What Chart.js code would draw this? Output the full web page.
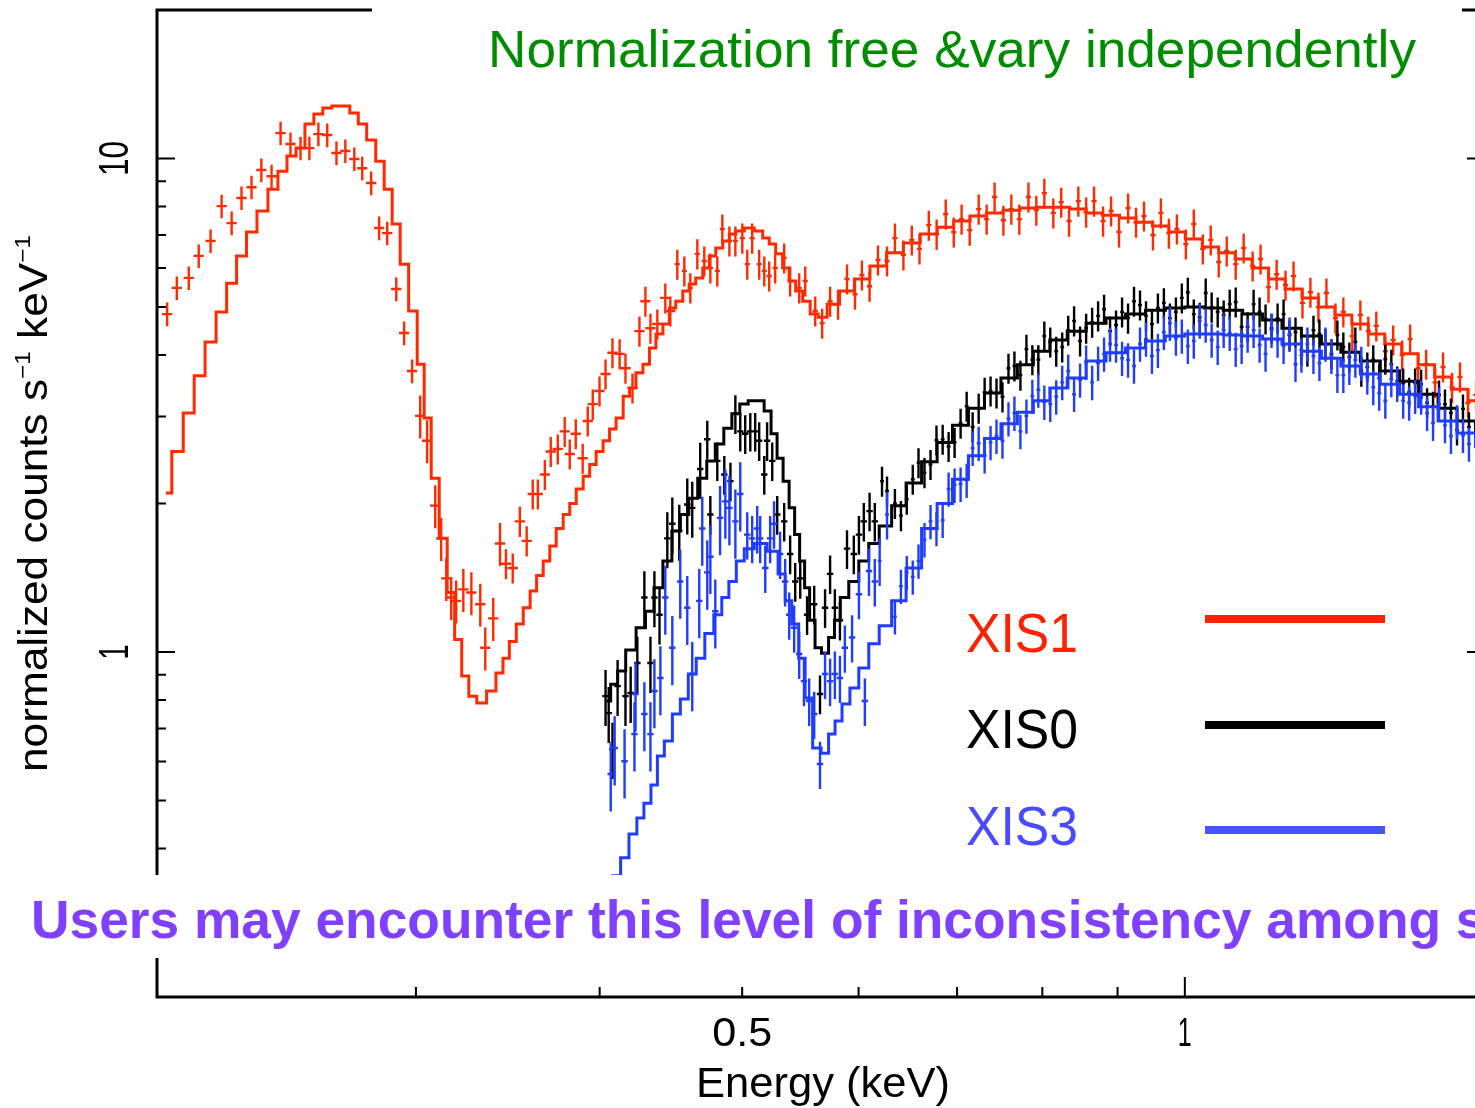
<!DOCTYPE html>
<html>
<head>
<meta charset="utf-8">
<script src="https://cdn.jsdelivr.net/npm/chart.js@4.4.1/dist/chart.umd.min.js"></script>
<style>
  html, body { margin: 0; padding: 0; background: #fff; overflow: hidden; }
  #spec { position: absolute; left: 0; top: 0; }
</style>
</head>
<body>
<canvas id="spec" width="1500" height="1108"></canvas>
<script>
// [energy keV, normalized counts s^-1 keV^-1]
const xis1Model = [[0.2028,2.10],[0.2066,2.55],[0.2102,3.05],[0.2138,3.63],[0.2175,4.25],[0.2213,4.89],[0.2248,5.59],[0.2283,6.35],[0.2319,7.10],[0.2359,7.83],[0.2400,8.67],[0.2434,9.43],[0.2469,10.12],[0.2504,10.50],[0.2539,11.75],[0.2575,12.31],[0.2611,12.66],[0.2649,12.78],[0.2686,12.78],[0.2724,12.37],[0.2758,11.75],[0.2797,10.90],[0.2837,9.88],[0.2872,8.67],[0.2909,7.37],[0.2945,6.11],[0.2987,4.91],[0.3025,3.83],[0.3053,2.98],[0.3092,2.25],[0.3131,1.70],[0.3170,1.32],[0.3205,1.06],[0.3241,0.894],[0.3277,0.814],[0.3323,0.788],[0.3379,0.834],[0.3422,0.907],[0.3454,0.972],[0.3491,1.05],[0.3530,1.14],[0.3568,1.23],[0.3607,1.33],[0.3641,1.43],[0.3682,1.53],[0.3717,1.64],[0.3757,1.78],[0.3799,1.90],[0.3835,2.00],[0.3877,2.14],[0.3919,2.27],[0.3957,2.40],[0.3999,2.55],[0.4044,2.68],[0.4081,2.83],[0.4127,2.98],[0.4173,3.30],[0.4211,3.43],[0.4257,3.68],[0.4304,3.83],[0.4345,4.13],[0.4392,4.41],[0.4441,4.62],[0.4482,4.98],[0.4531,5.14],[0.4581,5.39],[0.4624,5.57],[0.4675,5.73],[0.4727,6.00],[0.4771,6.35],[0.4824,6.59],[0.4877,6.81],[0.4924,7.03],[0.4978,7.13],[0.5056,7.23],[0.5135,7.13],[0.5192,6.90],[0.5241,6.71],[0.5298,6.41],[0.5356,6.00],[0.5407,5.65],[0.5467,5.39],[0.5527,5.14],[0.5597,4.84],[0.5667,4.77],[0.5756,5.07],[0.5892,5.39],[0.6031,5.70],[0.6185,6.06],[0.6351,6.44],[0.6521,6.74],[0.6697,7.03],[0.6877,7.26],[0.7050,7.47],[0.7241,7.65],[0.7424,7.76],[0.7621,7.86],[0.7828,7.94],[0.8025,7.97],[0.8240,7.97],[0.8464,7.90],[0.8675,7.76],[0.8909,7.68],[0.9150,7.58],[0.9380,7.43],[0.9632,7.30],[0.9876,7.10],[1.0141,6.87],[1.0414,6.62],[1.0678,6.44],[1.0965,6.26],[1.1259,6.00],[1.1546,5.70],[1.1856,5.44],[1.2173,5.22],[1.2482,5.00],[1.2817,4.82],[1.3163,4.62],[1.3496,4.41],[1.3858,4.21],[1.4230,4.02],[1.4591,3.82],[1.4983,3.61],[1.5385,3.41],[1.5776,3.23],[1.620,3.05]];

const xis0Model = [[0.4044,0.796],[0.4095,0.861],[0.4134,0.915],[0.4199,1.01],[0.4271,1.12],[0.4324,1.21],[0.4386,1.35],[0.4447,1.53],[0.4511,1.76],[0.4567,1.90],[0.4631,2.05],[0.4697,2.25],[0.4764,2.44],[0.4824,2.64],[0.4893,2.84],[0.4947,3.04],[0.5016,3.18],[0.5079,3.23],[0.5143,3.23],[0.5207,3.08],[0.5256,2.77],[0.5306,2.47],[0.5356,2.22],[0.5407,1.96],[0.5449,1.73],[0.5492,1.53],[0.5535,1.35],[0.5579,1.16],[0.5630,1.02],[0.5693,0.995],[0.5756,1.07],[0.5799,1.16],[0.5862,1.29],[0.5955,1.39],[0.6049,1.53],[0.6144,1.66],[0.6250,1.80],[0.6388,1.98],[0.6539,2.20],[0.6706,2.43],[0.6865,2.66],[0.7036,2.88],[0.7217,3.12],[0.7399,3.35],[0.7598,3.59],[0.7790,3.82],[0.7988,4.07],[0.8203,4.29],[0.8435,4.47],[0.8703,4.64],[0.8978,4.75],[0.9250,4.84],[0.9556,4.93],[0.9845,4.98],[1.0157,5.00],[1.0464,4.98],[1.0778,4.93],[1.1120,4.84],[1.1471,4.71],[1.1817,4.53],[1.2191,4.37],[1.2580,4.21],[1.2958,4.05],[1.3370,3.89],[1.3795,3.71],[1.4208,3.54],[1.4636,3.33],[1.5101,3.12],[1.5531,2.94],[1.5999,2.78]];

const xis3Model = [[0.4057,0.313],[0.4108,0.352],[0.4159,0.383],[0.4217,0.428],[0.4263,0.461],[0.4311,0.494],[0.4358,0.538],[0.4399,0.616],[0.4454,0.660],[0.4511,0.749],[0.4567,0.803],[0.4624,0.903],[0.4682,0.972],[0.4750,1.09],[0.4816,1.19],[0.4870,1.29],[0.4924,1.39],[0.4985,1.53],[0.5048,1.62],[0.5143,1.66],[0.5256,1.60],[0.5323,1.44],[0.5374,1.27],[0.5433,1.14],[0.5492,0.972],[0.5544,0.807],[0.5623,0.639],[0.5693,0.624],[0.5756,0.682],[0.5810,0.725],[0.5883,0.785],[0.5955,0.846],[0.6049,0.928],[0.6144,1.04],[0.6250,1.13],[0.6388,1.27],[0.6539,1.48],[0.6706,1.78],[0.6865,2.00],[0.7036,2.24],[0.7217,2.50],[0.7399,2.71],[0.7598,2.90],[0.7790,3.06],[0.7988,3.23],[0.8203,3.43],[0.8435,3.59],[0.8703,3.89],[0.8978,4.04],[0.9250,4.13],[0.9556,4.27],[0.9845,4.37],[1.0157,4.41],[1.0464,4.41],[1.0778,4.39],[1.1120,4.37],[1.1471,4.31],[1.1817,4.21],[1.2191,4.07],[1.2580,3.94],[1.2958,3.80],[1.3370,3.66],[1.3795,3.49],[1.4208,3.33],[1.4636,3.14],[1.5101,2.94],[1.5531,2.78],[1.5999,2.61]];

const xis1Data = [[0.2032,4.84],[0.2063,5.47],[0.2102,5.73],[0.2135,6.35],[0.2175,6.81],[0.2213,8.01],[0.2248,7.40],[0.2283,8.32],[0.2319,8.75],[0.2355,9.48],[0.2393,9.21],[0.2427,11.26],[0.2465,10.70],[0.2504,10.50],[0.2539,10.50],[0.2575,11.21],[0.2611,11.16],[0.2649,10.26],[0.2686,10.36],[0.2724,9.98],[0.2758,9.56],[0.2797,8.92],[0.2832,7.23],[0.2868,7.06],[0.2909,5.44],[0.2945,4.43],[0.2982,3.71],[0.3020,3.01],[0.3053,2.68],[0.3092,1.98],[0.3121,1.70],[0.3146,1.41],[0.3170,1.29],[0.3195,1.27],[0.3231,1.34],[0.3272,1.32],[0.3318,1.25],[0.3344,1.02],[0.3386,1.17],[0.3422,1.66],[0.3454,1.51],[0.3491,1.48],[0.3530,1.84],[0.3568,1.68],[0.3602,2.09],[0.3631,2.09],[0.3671,2.29],[0.3705,2.55],[0.3746,2.58],[0.3787,2.80],[0.3817,2.52],[0.3853,2.77],[0.3895,2.47],[0.3926,2.94],[0.3957,3.18],[0.3999,3.38],[0.4037,3.66],[0.4081,4.04],[0.4127,4.02],[0.4165,3.76],[0.4211,3.43],[0.4257,4.47],[0.4297,5.14],[0.4331,4.53],[0.4378,4.62],[0.4433,5.22],[0.4468,4.91],[0.4517,6.11],[0.4567,5.92],[0.4610,5.47],[0.4661,6.41],[0.4712,6.20],[0.4757,6.00],[0.4809,5.92],[0.4847,7.20],[0.4901,6.81],[0.4947,6.81],[0.5001,6.90],[0.5040,6.11],[0.5079,6.90],[0.5135,6.11],[0.5176,5.92],[0.5216,5.78],[0.5265,6.00],[0.5340,6.29],[0.5390,5.65],[0.5467,5.47],[0.5519,5.65],[0.5606,4.91],[0.5667,4.64],[0.5738,5.14],[0.5810,5.07],[0.5892,5.70],[0.5966,5.31],[0.6031,5.81],[0.6104,5.51],[0.6185,6.23],[0.6273,6.20],[0.6351,6.90],[0.6436,6.38],[0.6521,6.84],[0.6600,6.56],[0.6697,7.33],[0.6780,7.03],[0.6877,7.72],[0.6964,7.10],[0.7050,7.54],[0.7140,7.16],[0.7241,7.90],[0.7332,7.54],[0.7424,8.36],[0.7527,7.50],[0.7621,7.90],[0.7717,7.54],[0.7828,8.36],[0.7925,7.86],[0.8025,8.51],[0.8139,7.76],[0.8240,8.16],[0.8342,7.47],[0.8464,8.20],[0.8568,7.79],[0.8675,8.20],[0.8798,7.47],[0.8909,7.83],[0.9020,7.10],[0.9150,7.94],[0.9264,7.43],[0.9380,7.65],[0.9513,7.00],[0.9632,7.76],[0.9753,7.06],[0.9876,7.20],[1.0016,6.71],[1.0141,7.37],[1.0285,6.56],[1.0414,6.84],[1.0545,6.17],[1.0678,6.50],[1.0829,6.11],[1.0965,6.59],[1.1120,6.06],[1.1259,6.26],[1.1400,5.49],[1.1546,5.83],[1.1708,5.54],[1.1856,5.78],[1.2023,5.10],[1.2173,5.36],[1.2327,5.00],[1.2482,5.34],[1.2659,4.75],[1.2817,4.89],[1.2999,4.37],[1.3163,4.82],[1.3328,4.47],[1.3496,4.58],[1.3688,4.07],[1.3858,4.29],[1.4054,4.00],[1.4230,4.31],[1.4409,3.76],[1.4591,3.83],[1.4798,3.52],[1.4983,3.78],[1.5196,3.44],[1.5385,3.61],[1.5580,3.20],[1.5776,3.32]];

const xis0Data = [[0.4037,0.814],[0.4057,0.752],[0.4081,0.636],[0.4114,0.853],[0.4165,0.814],[0.4199,0.826],[0.4243,0.950],[0.4290,1.29],[0.4331,0.950],[0.4358,1.29],[0.4393,1.19],[0.4447,1.70],[0.4482,1.82],[0.4531,1.76],[0.4588,1.99],[0.4624,1.96],[0.4682,2.35],[0.4734,2.70],[0.4757,1.90],[0.4809,2.44],[0.4862,2.29],[0.4909,2.22],[0.4947,3.04],[0.4985,2.80],[0.5024,2.77],[0.5064,2.80],[0.5103,2.80],[0.5135,2.68],[0.5176,2.29],[0.5199,2.68],[0.5241,2.44],[0.5282,1.90],[0.5340,1.84],[0.5390,1.58],[0.5433,1.39],[0.5476,1.41],[0.5535,1.19],[0.5597,1.25],[0.5648,0.822],[0.5693,1.23],[0.5738,1.44],[0.5781,1.23],[0.5827,1.16],[0.5892,1.62],[0.5955,1.58],[0.6003,1.73],[0.6049,1.84],[0.6104,1.93],[0.6154,1.84],[0.6224,2.22],[0.6273,2.12],[0.6351,2.00],[0.6470,2.04],[0.6590,2.42],[0.6715,2.40],[0.6844,2.70],[0.6973,2.66],[0.7106,3.15],[0.7241,3.12],[0.7377,3.38],[0.7516,3.29],[0.7658,3.80],[0.7803,4.11],[0.7950,3.91],[0.8100,4.25],[0.8253,4.15],[0.8408,4.69],[0.8568,4.53],[0.8730,4.80],[0.8895,4.47],[0.9064,4.89],[0.9235,5.14],[0.9410,4.80],[0.9587,4.98],[0.9769,4.75],[0.9953,5.22],[1.0141,4.84],[1.0332,5.34],[1.0528,4.89],[1.0728,5.07],[1.0930,4.56],[1.1137,5.07],[1.1347,4.73],[1.1563,4.75],[1.1781,4.39],[1.2003,4.09],[1.2231,4.49],[1.2463,4.21],[1.2698,4.39],[1.2938,3.96],[1.3183,3.71],[1.3432,3.91],[1.3688,3.92],[1.3945,3.54],[1.4208,3.36],[1.4477,3.49],[1.4750,3.15],[1.5028,3.18],[1.5314,2.82],[1.5603,2.86],
  [0.6411,1.89],[0.6531,2.24],[0.6652,2.31],[0.6778,2.69],[0.6908,2.61],[0.7039,2.91],[0.7173,2.86],[0.7309,3.36],[0.7446,3.35],[0.7587,3.76],[0.7730,3.64],[0.7876,3.91],[0.8025,4.37],[0.8176,4.07],[0.8331,4.49],[0.8487,4.27],[0.8649,4.66],[0.8812,4.95],[0.8979,4.60],[0.9149,4.75],[0.9322,5.05],[0.9498,4.62],[0.9677,5.10],[0.9861,4.89],[1.0047,5.36],[1.0236,4.77],[1.0429,5.00],[1.0627,4.82],[1.0829,5.12],[1.1033,4.56],[1.1242,4.89],[1.1454,4.53],[1.1672,4.84],[1.1892,4.45],[1.2116,4.07],[1.2346,4.41],[1.2580,4.02],[1.2817,4.15],[1.3060,4.25],[1.3307,3.78],[1.3558,3.59],[1.3817,3.83],[1.4076,3.51],[1.4342,3.51],[1.4613,3.20],[1.4889,3.32],[1.5169,3.05],[1.5458,3.11]];

const xis3Data = [[0.4070,0.566],[0.4095,0.639],[0.4159,0.601],[0.4224,0.682],[0.4231,0.822],[0.4290,0.749],[0.4331,0.682],[0.4358,0.834],[0.4399,0.886],[0.4433,1.29],[0.4482,1.02],[0.4538,1.39],[0.4588,1.23],[0.4624,0.903],[0.4675,1.27],[0.4697,1.78],[0.4734,1.45],[0.4757,1.56],[0.4794,1.21],[0.4830,1.87],[0.4870,2.02],[0.4901,1.96],[0.4947,1.84],[0.4985,2.09],[0.5040,1.73],[0.5079,1.70],[0.5119,1.78],[0.5143,1.70],[0.5184,1.48],[0.5224,1.70],[0.5256,1.82],[0.5306,1.58],[0.5348,1.39],[0.5382,1.19],[0.5424,1.12],[0.5467,0.991],[0.5508,0.873],[0.5553,0.796],[0.5597,0.749],[0.5648,0.593],[0.5693,0.903],[0.5738,0.873],[0.5781,0.903],[0.5827,0.886],[0.5872,1.02],[0.5939,1.07],[0.6003,1.31],[0.6059,0.796],[0.6098,1.46],[0.6154,1.39],[0.6201,1.53],[0.6273,1.90],[0.6351,1.18],[0.6470,1.45],[0.6590,1.53],[0.6715,1.84],[0.6844,1.85],[0.6973,2.18],[0.7106,2.23],[0.7241,2.65],[0.7377,2.66],[0.7516,2.68],[0.7658,3.05],[0.7803,3.01],[0.7950,3.40],[0.8100,3.18],[0.8253,3.52],[0.8408,3.33],[0.8568,3.87],[0.8730,3.85],[0.8895,4.21],[0.9064,3.94],[0.9235,3.80],[0.9410,4.31],[0.9587,4.09],[0.9769,4.64],[0.9953,4.37],[1.0141,4.27],[1.0332,4.60],[1.0528,4.15],[1.0728,4.43],[1.0930,4.17],[1.1137,4.49],[1.1347,4.02],[1.1563,4.29],[1.1781,4.41],[1.2003,4.00],[1.2231,3.98],[1.2463,4.21],[1.2698,3.64],[1.2938,3.78],[1.3183,3.85],[1.3432,3.44],[1.3688,3.23],[1.3945,3.49],[1.4208,3.20],[1.4477,3.29],[1.4750,2.91],[1.5028,2.88],[1.5314,2.93],[1.5603,2.64],
  [0.6411,1.36],[0.6531,1.42],[0.6652,1.69],[0.6778,1.78],[0.6908,2.14],[0.7039,2.19],[0.7173,2.59],[0.7309,2.50],[0.7446,2.74],[0.7587,2.97],[0.7730,2.80],[0.7876,3.30],[0.8025,3.21],[0.8176,3.29],[0.8331,3.71],[0.8487,3.56],[0.8649,3.52],[0.8812,4.02],[0.8979,4.19],[0.9149,3.91],[0.9322,4.21],[0.9498,3.98],[0.9677,4.45],[0.9861,4.33],[1.0047,4.17],[1.0236,4.69],[1.0429,4.29],[1.0627,4.49],[1.0829,4.11],[1.1033,4.39],[1.1242,4.19],[1.1454,4.49],[1.1672,4.17],[1.1892,3.83],[1.2116,4.21],[1.2346,3.85],[1.2580,3.98],[1.2817,3.64],[1.3060,3.91],[1.3307,3.61],[1.3558,3.35],[1.3817,3.57],[1.4076,3.23],[1.4342,3.30],[1.4613,3.05],[1.4889,3.18],[1.5169,2.74],[1.5458,2.75]];

// fractional 1-sigma error, by energy band: [upper energy, fraction]
const xis1ErrFrac = [[0.30, 0.055], [0.345, 0.10], [0.56, 0.07], [2, 0.07]];
const xis0ErrFrac = [[0.47, 0.13], [0.62, 0.09], [2, 0.07]];
const xis3ErrFrac = [[0.50, 0.16], [0.63, 0.11], [2, 0.08]];
// half bin width as a fraction of energy
const xis1BinHalf = [[0.45, 0.008], [2, 0.004]];
const xis0BinHalf = [[0.62, 0.005], [2, 0.003]];
const xis3BinHalf = [[0.62, 0.005], [2, 0.003]];

const detectors = ['XIS1', 'XIS0', 'XIS3'];
const xMinorTicks = [0.3, 0.4, 0.5, 0.6, 0.7, 0.8, 0.9];
const xMajorTicks = [1];
const yMinorTicks = [0.3, 0.4, 0.5, 0.6, 0.7, 0.8, 0.9, 2, 3, 4, 5, 6, 7, 8, 9];
const yMajorTicks = [1, 10];
const xTickLabels = [[0.5, '0.5'], [1, '1']];
const yTickLabels = [[1, '1'], [10, '10']];

const RED = '#ff2a00', BLACK = '#000000', BLUE = '#1f3cff';
const FONT = '"Liberation Sans", Arial, Helvetica, sans-serif';

const pts = arr => arr.map(([x, y]) => ({x, y}));
function band(bands, e) {
    for (const [upTo, v] of bands) if (e <= upTo) return v;
    return bands[bands.length - 1][1];
}

// vertical + horizontal error bars for the data sets
const errorBars = {
    id: 'errorBars',
    afterDatasetDraw(chart, args) {
        const ds = chart.data.datasets[args.index];
        if (!ds.errFrac) return;
        const {ctx, chartArea: a, scales: {x, y}} = chart;
        ctx.save();
        ctx.beginPath();
        ctx.rect(a.left, a.top, a.right - a.left, a.bottom - a.top);
        ctx.clip();
        ctx.strokeStyle = ds.borderColor;
        ctx.lineWidth = 2.4;
        ctx.beginPath();
        ds.data.forEach(p => {
            const fy = band(ds.errFrac, p.x), fx = band(ds.binHalf, p.x);
            const px = x.getPixelForValue(p.x), py = y.getPixelForValue(p.y);
            ctx.moveTo(px, y.getPixelForValue(p.y * (1 + fy)));
            ctx.lineTo(px, y.getPixelForValue(p.y * (1 - fy)));
            ctx.moveTo(x.getPixelForValue(p.x * (1 - fx)), py);
            ctx.lineTo(x.getPixelForValue(p.x * (1 + fx)), py);
        });
        ctx.stroke();
        ctx.restore();
    }
};

function fitText(ctx, text, x, y, font, width, align, color, measureText) {
    ctx.save();
    ctx.font = font;
    ctx.fillStyle = color;
    const s = width / ctx.measureText(measureText || text).width;
    ctx.translate(x, y);
    ctx.scale(s, 1);
    ctx.textAlign = align;
    ctx.textBaseline = 'alphabetic';
    ctx.fillText(text, 0, 0);
    ctx.restore();
}

// frame, ticks, labels, legend and the slide overlays
const frame = {
    id: 'frame',
    afterDraw(chart) {
        const {ctx, chartArea: a, scales: {x, y}} = chart;
        ctx.save();
        ctx.strokeStyle = '#000';
        const seg = (x1, y1, x2, y2) => { ctx.moveTo(x1, y1); ctx.lineTo(x2, y2); };

        ctx.lineWidth = 2;
        ctx.beginPath();
        xMinorTicks.forEach(v => { const p = x.getPixelForValue(v); seg(p, a.bottom, p, a.bottom - 10); seg(p, a.top, p, a.top + 10); });
        xMajorTicks.forEach(v => { const p = x.getPixelForValue(v); seg(p, a.bottom, p, a.bottom - 20); seg(p, a.top, p, a.top + 20); });
        yMinorTicks.forEach(v => { const p = y.getPixelForValue(v); seg(a.left, p, a.left + 9, p); seg(a.right, p, a.right - 9, p); });
        yMajorTicks.forEach(v => { const p = y.getPixelForValue(v); seg(a.left, p, a.left + 18, p); seg(a.right, p, a.right - 18, p); });
        ctx.stroke();

        ctx.lineWidth = 3;
        ctx.strokeRect(a.left, a.top, a.right - a.left, a.bottom - a.top);

        // tick labels
        xTickLabels.forEach(([v, t]) => fitText(ctx, t, x.getPixelForValue(v), 1046, '40px ' + FONT, t.length === 1 ? 14 : 60, 'center', '#000'));
        yTickLabels.forEach(([v, t]) => {
            ctx.save();
            ctx.translate(128, y.getPixelForValue(v));
            ctx.rotate(-Math.PI / 2);
            fitText(ctx, t, 0, 0, '42px ' + FONT, t.length === 1 ? 15 : 35, 'center', '#000');
            ctx.restore();
        });

        // axis titles
        fitText(ctx, 'Energy (keV)', 823, 1097, '42px ' + FONT, 254, 'center', '#000');
        ctx.save();
        ctx.translate(47, 772);
        ctx.rotate(-Math.PI / 2);
        const parts = [['normalized counts s', 40, 0], ['\u22121', 22, -17], [' keV', 40, 0], ['\u22121', 22, -17]];
        let total = 0;
        parts.forEach(p => { ctx.font = p[1] + 'px ' + FONT; p.push(ctx.measureText(p[0]).width); total += p[3]; });
        ctx.scale(537 / total, 1);
        ctx.fillStyle = '#000';
        let cx = 0;
        parts.forEach(p => { ctx.font = p[1] + 'px ' + FONT; ctx.fillText(p[0], cx, p[2]); cx += p[3]; });
        ctx.restore();

        // legend
        const legendColors = [['#ff2200', '#ff2200'], ['#000000', '#000000'], ['#4a4aff', '#4455ff']];
        const legendY = [652, 748, 845];
        const lineY = [619, 725, 830];
        detectors.forEach((d, i) => {
            fitText(ctx, d, 966, legendY[i], '56px ' + FONT, 112, 'left', legendColors[i][0]);
            ctx.fillStyle = legendColors[i][1];
            ctx.fillRect(1205, lineY[i] - 4, 180, 8);
        });

        // slide overlays
        ctx.fillStyle = '#fff';
        ctx.fillRect(372, 0, 1090, 86);
        fitText(ctx, 'Normalization free &vary independently', 488, 67, '52px ' + FONT, 928, 'left', '#008c00');
        ctx.fillStyle = '#fff';
        ctx.fillRect(0, 875, 1500, 83);
        fitText(ctx, 'Users may encounter this level of inconsistency among s', 31, 938, 'bold 53px ' + FONT, 1410, 'left', '#8040ff',
            'Users may encounter this level of inconsistency among');
        ctx.restore();
    }
};

const modelSet = (label, data, color, order) => ({
    type: 'line', label, data: pts(data), borderColor: color, borderWidth: 3,
    pointRadius: 0, stepped: 'middle', fill: false, order
});
const dataSet = (label, data, color, errFrac, binHalf, order) => ({
    type: 'scatter', label, data: pts(data), borderColor: color, backgroundColor: color,
    pointRadius: 0, showLine: false, errFrac, binHalf, order
});

new Chart(document.getElementById('spec'), {
    type: 'scatter',
    data: {
        datasets: [
            modelSet('XIS3 model', xis3Model, BLUE, 0),
            dataSet('XIS3', xis3Data, BLUE, xis3ErrFrac, xis3BinHalf, 1),
            modelSet('XIS0 model', xis0Model, BLACK, 2),
            dataSet('XIS0', xis0Data, BLACK, xis0ErrFrac, xis0BinHalf, 3),
            modelSet('XIS1 model', xis1Model, RED, 4),
            dataSet('XIS1', xis1Data, RED, xis1ErrFrac, xis1BinHalf, 5)
        ]
    },
    options: {
        responsive: false,
        animation: false,
        devicePixelRatio: 1,
        layout: { padding: { left: 157, top: 10, right: 15, bottom: 111 } },
        scales: {
            x: { type: 'logarithmic', min: 0.2, max: 1.6, display: false },
            y: { type: 'logarithmic', min: 0.2, max: 20, display: false }
        },
        plugins: { legend: { display: false }, tooltip: { enabled: false } }
    },
    plugins: [errorBars, frame]
});
</script>
</body>
</html>
